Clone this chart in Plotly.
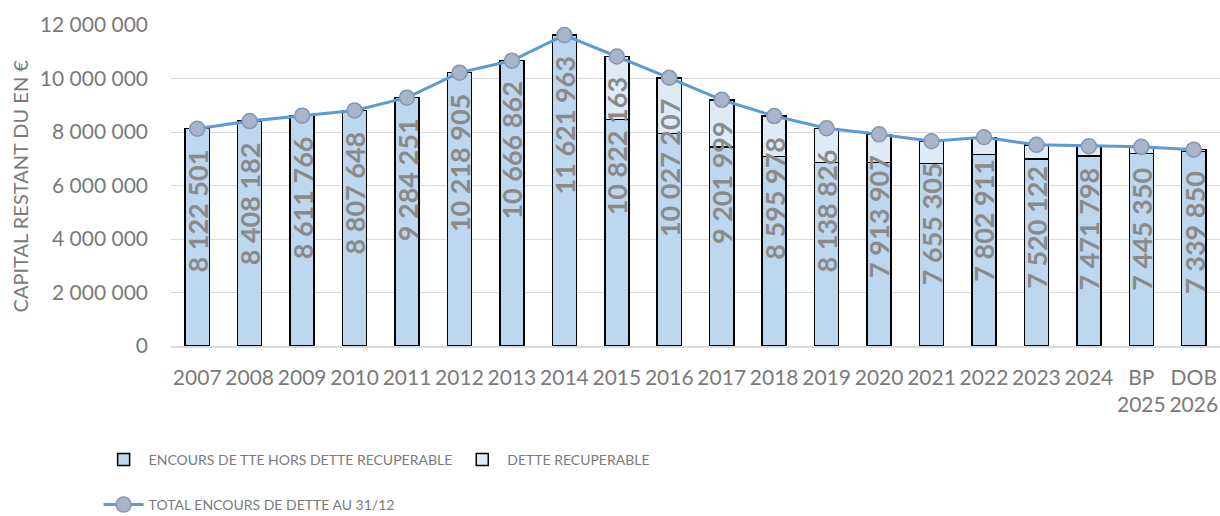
import plotly.graph_objects as go

categories = ["2007", "2008", "2009", "2010", "2011", "2012", "2013", "2014", "2015", "2016",
              "2017", "2018", "2019", "2020", "2021", "2022", "2023", "2024", "BP<br>2025", "DOB<br>2026"]
total_debt = [8122501, 8408182, 8611766, 8807648, 9284251, 10218905, 10666862, 11621963, 10822163, 10027207,
              9201999, 8595978, 8138826, 7913907, 7655305, 7802911, 7520122, 7471798, 7445350, 7339850]
recoverable_debt = [0, 0, 0, 0, 0, 0, 0, 0, 2350000, 2080000,
                    1770000, 1520000, 1270000, 1050000, 830000, 640000, 530000, 370000, 240000, 70000]
base_debt = [t - r for t, r in zip(total_debt, recoverable_debt)]
label_texts = ["8 122 501", "8 408 182", "8 611 766", "8 807 648", "9 284 251", "10 218 905", "10 666 862",
               "11 621 963", "10 822 163", "10 027 207", "9 201 999", "8 595 978", "8 138 826", "7 913 907",
               "7 655 305", "7 802 911", "7 520 122", "7 471 798", "7 445 350", "7 339 850"]
y_tick_vals = [0, 2000000, 4000000, 6000000, 8000000, 10000000, 12000000]
y_tick_text = ["0", "2 000 000", "4 000 000", "6 000 000", "8 000 000", "10 000 000", "12 000 000"]

FONT = "Lato, Liberation Sans, Arial, sans-serif"
GREY = "#7a7a7a"

fig = go.Figure()
fig.add_trace(go.Bar(
    x=categories, y=base_debt, name="ENCOURS DE TTE HORS DETTE RECUPERABLE",
    marker=dict(color="#BDD7EE", line=dict(color="#000000", width=1.5)),
    legend="legend",
))
fig.add_trace(go.Bar(
    x=categories, y=recoverable_debt, name="DETTE RECUPERABLE",
    marker=dict(color="#DEEBF7", line=dict(color="#000000", width=1.5)),
    legend="legend",
))
fig.add_trace(go.Scatter(
    x=categories, y=total_debt, name="TOTAL ENCOURS DE DETTE AU 31/12",
    mode="lines+markers",
    line=dict(color="#5B9BD5", width=3),
    marker=dict(size=15, color="#A7B4C9", line=dict(color="#8497B0", width=1.5)),
    legend="legend2",
))

for i, (t, txt) in enumerate(zip(total_debt, label_texts)):
    fig.add_annotation(
        x=i, y=t, xref="x", yref="y", text="<b>" + txt + "</b>", showarrow=False,
        textangle=-90, yanchor="top", xanchor="center", yshift=-19,
        font=dict(family=FONT, size=27, color="#8a8a8a"),
    )

fig.add_annotation(
    x=-0.144, y=0.5, xref="paper", yref="paper", text="CAPITAL RESTANT DU EN €",
    showarrow=False, textangle=-90, xanchor="center", yanchor="middle",
    font=dict(family=FONT, size=20, color=GREY),
)

fig.update_layout(
    width=1220, height=516,
    margin=dict(l=171, r=0, t=25, b=170, autoexpand=False),
    barmode="stack", bargap=0.54,
    plot_bgcolor="white", paper_bgcolor="white",
    font=dict(family=FONT, color=GREY),
    legend=dict(orientation="h", x=-0.069, xanchor="left", yref="container", y=0.1085, yanchor="middle",
                font=dict(size=14, color=GREY), traceorder="normal", itemwidth=40),
    legend2=dict(orientation="h", x=-0.069, xanchor="left", yref="container", y=0.0213, yanchor="middle",
                 font=dict(size=14, color=GREY), itemwidth=40),
)
fig.update_xaxes(
    type="category", range=[-0.5, 19.5],
    showgrid=False, showline=True, linecolor="#D9D9D9", linewidth=1.5,
    tickfont=dict(size=21, color=GREY), ticklabelstandoff=12,
)
fig.update_yaxes(
    range=[0, 12000000], tickvals=y_tick_vals, ticktext=y_tick_text,
    showgrid=True, gridcolor="#D9D9D9", gridwidth=1, zeroline=False,
    tickfont=dict(size=21, color=GREY), ticklabelstandoff=22,
)

fig.write_html("out.html", config={"displayModeBar": False},
               post_script="document.body.style.margin='0';document.body.style.overflow='hidden';")
